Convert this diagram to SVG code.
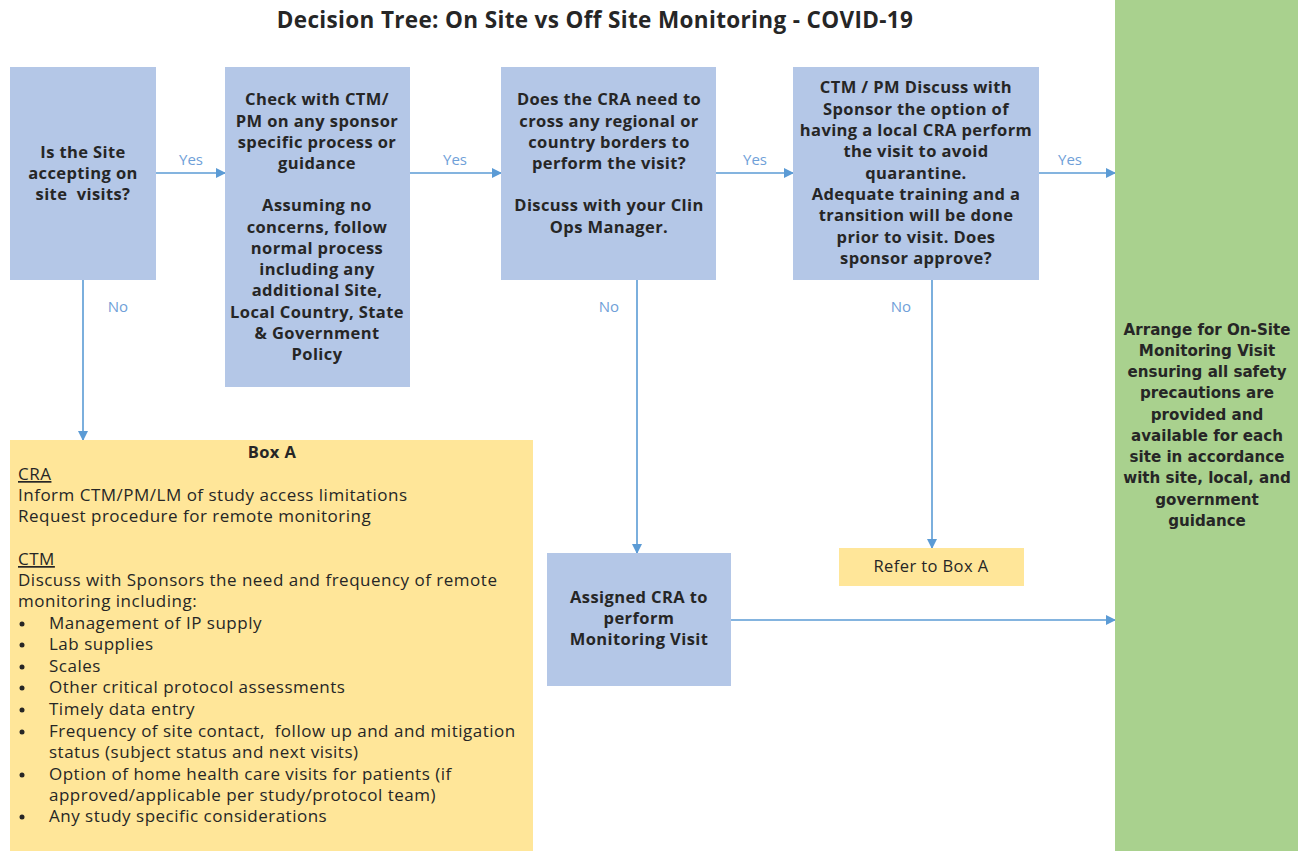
<svg xmlns="http://www.w3.org/2000/svg" width="1298" height="851" viewBox="0 0 1298 851">
  <style>
    .blue { fill: #B4C7E7; }
    .yellow { fill: #FFE699; }
    .green { fill: #A9D18E; }
    .bt { font-family: "Open Sans", Lato, "Liberation Sans", sans-serif; font-weight: bold; font-size: 16.5px; letter-spacing: 0.4px; fill: #262626; text-anchor: middle; }
    .gt { font-family: "DejaVu Sans", Verdana, sans-serif; font-weight: bold; font-size: 15.1px; fill: #262626; text-anchor: middle; }
    .bx { font-family: "Open Sans", Lato, "Liberation Sans", sans-serif; font-size: 17px; letter-spacing: 0.5px; fill: #262626; }
    .lbl { font-family: "Open Sans", Lato, "Liberation Sans", sans-serif; font-size: 15px; fill: #6FA0D8; text-anchor: middle; }
    .conn { stroke: #5B9BD5; stroke-width: 1.6; fill: none; marker-end: url(#arr); }
    .title { font-family: "Open Sans", Lato, "Liberation Sans", sans-serif; font-weight: bold; font-size: 22.5px; letter-spacing: 0.35px; fill: #262626; text-anchor: middle; }
    .pre { white-space: pre; }
  </style>
  <defs>
    <marker id="arr" markerWidth="10" markerHeight="10" refX="9" refY="5" orient="auto" markerUnits="userSpaceOnUse">
      <path d="M0,0 L10,5 L0,10 Z" fill="#5B9BD5"/>
    </marker>
  </defs>
  <rect width="1298" height="851" fill="#FFFFFF"/>

  <text class="title" x="595" y="28">Decision Tree: On Site vs Off Site Monitoring - COVID-19</text>

  <!-- connectors -->
  <g id="connectors">
    <path class="conn" d="M156,173 L225,173"/>
    <path class="conn" d="M410,173 L501,173"/>
    <path class="conn" d="M716,173 L793,173"/>
    <path class="conn" d="M1039,173 L1115,173"/>
    <path class="conn" d="M83,280 L83,440"/>
    <path class="conn" d="M637,280 L637,553"/>
    <path class="conn" d="M932,280 L932,548"/>
    <path class="conn" d="M731,620 L1115,620"/>
    <text class="lbl" x="191" y="165">Yes</text>
    <text class="lbl" x="455" y="165">Yes</text>
    <text class="lbl" x="755" y="165">Yes</text>
    <text class="lbl" x="1070" y="165">Yes</text>
    <text class="lbl" x="118" y="312">No</text>
    <text class="lbl" x="609" y="312">No</text>
    <text class="lbl" x="901" y="312">No</text>
  </g>

  <g id="site-accepting">
    <rect class="blue" x="10" y="67" width="146" height="213"/>
    <text class="bt" x="83" y="158">Is the Site</text>
    <text class="bt" x="83" y="179">accepting on</text>
    <text class="bt pre" x="83" y="200">site  visits?</text>
  </g>

  <g id="check-ctm">
    <rect class="blue" x="225" y="67" width="185" height="320"/>
    <text class="bt" x="317" y="105">Check with CTM/</text>
    <text class="bt" x="317" y="127">PM on any sponsor</text>
    <text class="bt" x="317" y="148">specific process or</text>
    <text class="bt" x="317" y="169">guidance</text>
    <text class="bt" x="317" y="211">Assuming no</text>
    <text class="bt" x="317" y="233">concerns, follow</text>
    <text class="bt" x="317" y="254">normal process</text>
    <text class="bt" x="317" y="275">including any</text>
    <text class="bt" x="317" y="296">additional Site,</text>
    <text class="bt" x="317" y="318">Local Country, State</text>
    <text class="bt" x="317" y="339">&amp; Government</text>
    <text class="bt" x="317" y="360">Policy</text>
  </g>

  <g id="cross-borders">
    <rect class="blue" x="501" y="67" width="215" height="213"/>
    <text class="bt" x="609" y="105">Does the CRA need to</text>
    <text class="bt" x="609" y="127">cross any regional or</text>
    <text class="bt" x="609" y="148">country borders to</text>
    <text class="bt" x="609" y="169">perform the visit?</text>
    <text class="bt" x="609" y="211">Discuss with your Clin</text>
    <text class="bt" x="609" y="233">Ops Manager.</text>
  </g>

  <g id="local-cra">
    <rect class="blue" x="793" y="67" width="246" height="213"/>
    <text class="bt" x="916" y="93">CTM / PM Discuss with</text>
    <text class="bt" x="916" y="115">Sponsor the option of</text>
    <text class="bt" x="916" y="136">having a local CRA perform</text>
    <text class="bt" x="916" y="157">the visit to avoid</text>
    <text class="bt" x="916" y="179">quarantine.</text>
    <text class="bt" x="916" y="200">Adequate training and a</text>
    <text class="bt" x="916" y="221">transition will be done</text>
    <text class="bt" x="916" y="243">prior to visit. Does</text>
    <text class="bt" x="916" y="264">sponsor approve?</text>
  </g>

  <g id="on-site-visit">
    <rect class="green" x="1115" y="0" width="183" height="851"/>
    <text class="gt" x="1207" y="335">Arrange for On-Site</text>
    <text class="gt" x="1207" y="356">Monitoring Visit</text>
    <text class="gt" x="1207" y="377">ensuring all safety</text>
    <text class="gt" x="1207" y="398">precautions are</text>
    <text class="gt" x="1207" y="420">provided and</text>
    <text class="gt" x="1207" y="441">available for each</text>
    <text class="gt" x="1207" y="462">site in accordance</text>
    <text class="gt" x="1207" y="483">with site, local, and</text>
    <text class="gt" x="1207" y="505">government</text>
    <text class="gt" x="1207" y="526">guidance</text>
  </g>

  <g id="assigned-cra">
    <rect class="blue" x="547" y="553" width="184" height="133"/>
    <text class="bt" x="639" y="603">Assigned CRA to</text>
    <text class="bt" x="639" y="624">perform</text>
    <text class="bt" x="639" y="645">Monitoring Visit</text>
  </g>

  <g id="refer-box-a">
    <rect class="yellow" x="839" y="548" width="185" height="38"/>
    <text class="bt" x="931" y="572" style="font-weight:normal">Refer to Box A</text>
  </g>

  <g id="box-a">
    <rect class="yellow" x="10" y="440" width="523" height="411"/>
    <text class="bt" x="272" y="458">Box A</text>
    <text class="bx" x="18" y="480" text-decoration="underline">CRA</text>
    <text class="bx" x="18" y="501">Inform CTM/PM/LM of study access limitations</text>
    <text class="bx" x="18" y="522">Request procedure for remote monitoring</text>
    <text class="bx" x="18" y="565" text-decoration="underline">CTM</text>
    <text class="bx" x="18" y="586">Discuss with Sponsors the need and frequency of remote</text>
    <text class="bx" x="18" y="607">monitoring including:</text>
    <g fill="#262626">
      <circle cx="22" cy="624" r="2.5"/>
      <circle cx="22" cy="645" r="2.5"/>
      <circle cx="22" cy="667" r="2.5"/>
      <circle cx="22" cy="688" r="2.5"/>
      <circle cx="22" cy="710" r="2.5"/>
      <circle cx="22" cy="732" r="2.5"/>
      <circle cx="22" cy="775" r="2.5"/>
      <circle cx="22" cy="817" r="2.5"/>
    </g>
    <text class="bx" x="49" y="629">Management of IP supply</text>
    <text class="bx" x="49" y="650">Lab supplies</text>
    <text class="bx" x="49" y="672">Scales</text>
    <text class="bx" x="49" y="693">Other critical protocol assessments</text>
    <text class="bx" x="49" y="715">Timely data entry</text>
    <text class="bx pre" x="49" y="737">Frequency of site contact,  follow up and and mitigation</text>
    <text class="bx" x="49" y="758">status (subject status and next visits)</text>
    <text class="bx" x="49" y="780">Option of home health care visits for patients (if</text>
    <text class="bx" x="49" y="801">approved/applicable per study/protocol team)</text>
    <text class="bx" x="49" y="822">Any study specific considerations</text>
  </g>
</svg>
